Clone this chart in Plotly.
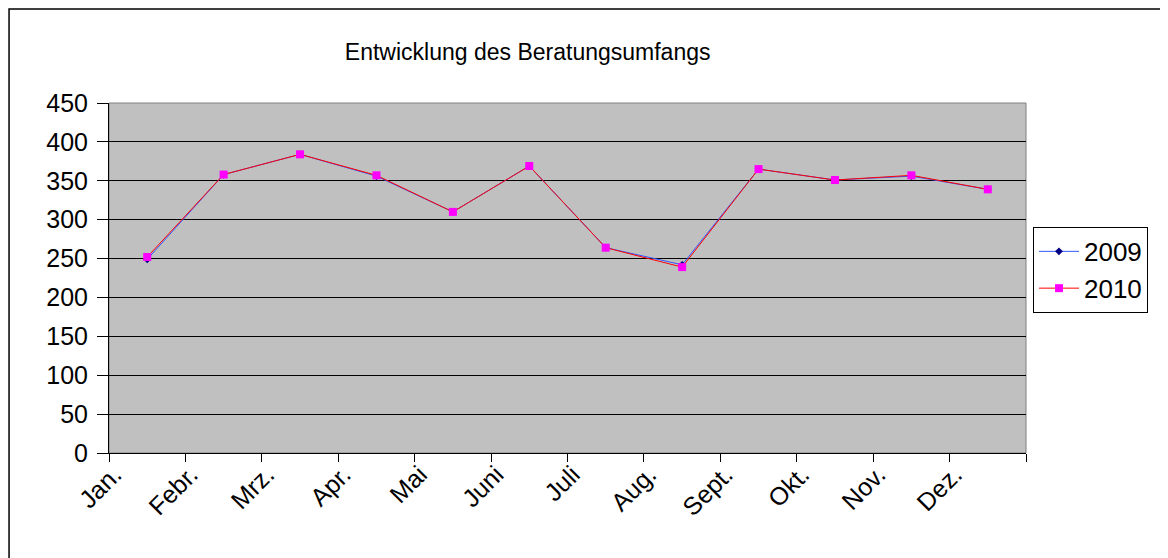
import plotly.graph_objects as go

months = ["Jan.", "Febr.", "Mrz.", "Apr.", "Mai", "Juni", "Juli", "Aug.", "Sept.", "Okt.", "Nov.", "Dez."]
values_2009 = [249, 358, 384, 356, 310, 369, 264, 242, 365, 351, 356, 339]
values_2010 = [252, 358, 384, 357, 310, 369, 264, 239, 365, 351, 357, 339]
y_ticks = list(range(0, 451, 50))

FONT = "Liberation Sans, Arial, sans-serif"

fig = go.Figure()

# series 2009: navy diamonds, blue line
fig.add_trace(go.Scatter(
    x=months, y=values_2009, name="2009", mode="lines+markers",
    line=dict(color="#3355ff", width=1),
    marker=dict(symbol="diamond", size=6, color="#000080"),
))
# series 2010: magenta squares, red line
fig.add_trace(go.Scatter(
    x=months, y=values_2010, name="2010", mode="lines+markers",
    line=dict(color="#ff0000", width=1),
    marker=dict(symbol="square", size=8, color="#ff00ff"),
))

# page body has an 8px margin, so the figure is 1160x550
fig.update_layout(
    width=1160, height=550,
    margin=dict(l=101, r=142, t=95, b=105),
    paper_bgcolor="white",
    plot_bgcolor="#c0c0c0",
    font=dict(family=FONT, color="black"),
    title=dict(
        text="Entwicklung des Beratungsumfangs",
        xref="container", yref="container",
        x=0.448, y=0.92, xanchor="center", yanchor="middle",
        font=dict(size=23, family=FONT),
    ),
    legend=dict(
        x=1.0076, y=0.523, xanchor="left", yanchor="middle",
        bordercolor="black", borderwidth=1, bgcolor="white",
        font=dict(size=26, family=FONT),
        itemwidth=40, tracegroupgap=0,
    ),
    showlegend=True,
)

fig.update_yaxes(
    range=[0, 450], tickvals=y_ticks,
    showgrid=True, gridcolor="black", gridwidth=1,
    showline=True, linecolor="black", linewidth=1,
    ticks="outside", ticklen=11, tickcolor="black",
    tickfont=dict(size=25), zeroline=False, ticklabelstandoff=4,
)
fig.update_xaxes(
    type="category", tickson="boundaries", range=[-0.5, 11.5],
    showgrid=False, showline=True, linecolor="black", linewidth=1,
    ticks="outside", ticklen=8, tickcolor="black",
    tickangle=-45, tickfont=dict(size=25), ticklabelshift=-33,
    ticklabelstandoff=-4,
)

# plot area border and outer chart frame
fig.add_shape(type="rect", xref="paper", yref="paper", x0=0, y0=0, x1=1, y1=1,
              line=dict(color="#808080", width=1), layer="below")
fig.add_shape(type="rect", xref="paper", yref="paper",
              x0=-0.109, y0=-0.4, x1=1.2, y1=1.2686,
              line=dict(color="black", width=1.5))

fig.write_html("out.html")
